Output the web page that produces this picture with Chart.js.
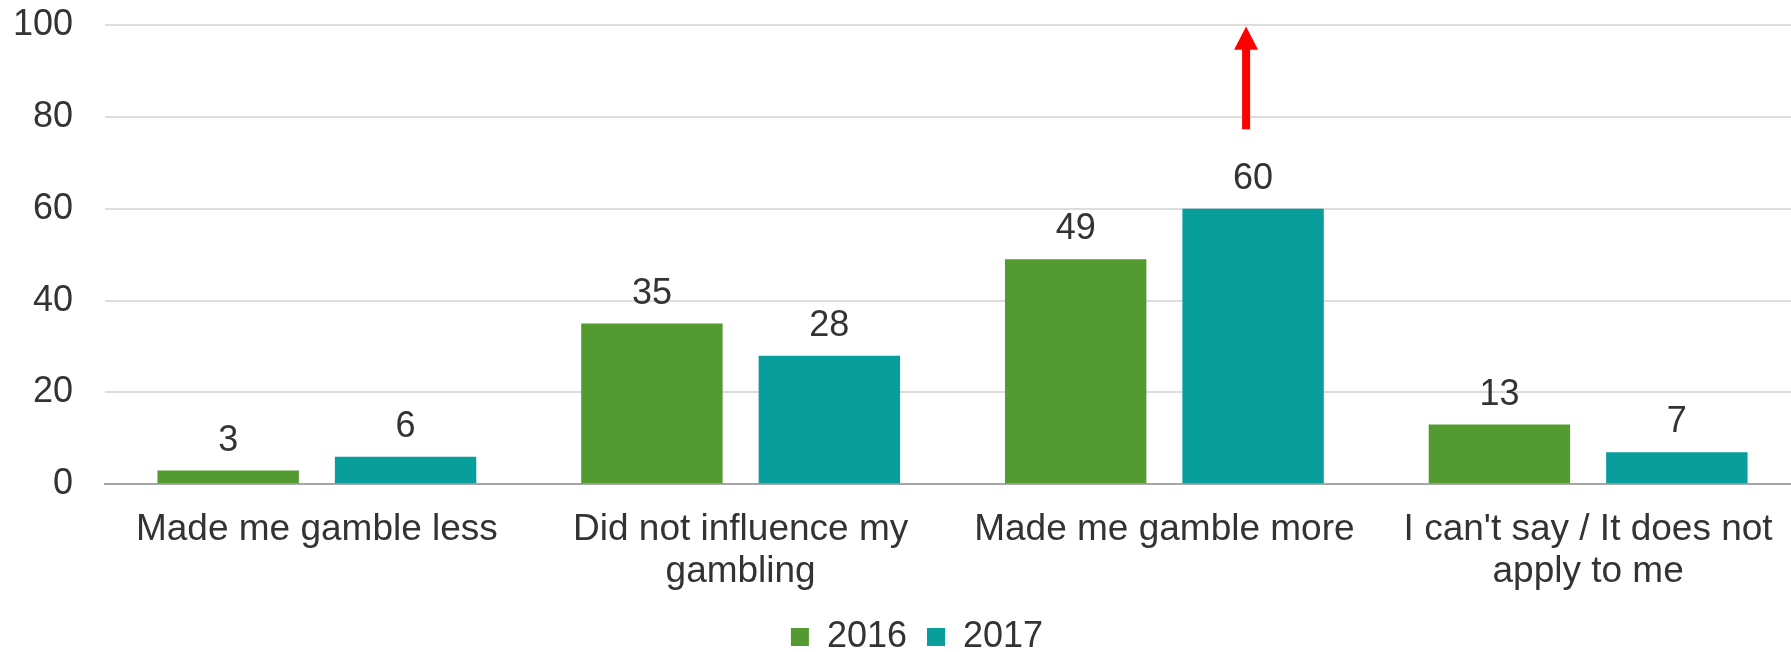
<!DOCTYPE html>
<html>
<head>
<meta charset="utf-8">
<script src="https://cdn.jsdelivr.net/npm/chart.js@4/dist/chart.umd.min.js"></script>
<style>
  html, body { margin: 0; padding: 0; background: #ffffff; overflow: hidden; width: 1791px; height: 652px; }
  #wrap { width: 1800px; height: 665px; }
</style>
</head>
<body>
<div id="wrap"><canvas id="c" width="1800" height="665"></canvas></div>
<script>
const categories = [
  ["Made me gamble less"],
  ["Did not influence my", "gambling"],
  ["Made me gamble more"],
  ["I can't say / It does not", "apply to me"]
];
const seriesNames = ["2016", "2017"];
const values2016 = [3, 35, 49, 13];
const values2017 = [6, 28, 60, 7];
const yTicks = [0, 20, 40, 60, 80, 100];
const seriesColors = ["#539A30", "#079E9C"];

const FONT = "'Liberation Sans', Arial, sans-serif";
const TEXT = "#333333";

const dataLabels = {
  id: 'dataLabels',
  afterDatasetsDraw(chart) {
    const ctx = chart.ctx;
    ctx.save();
    ctx.font = "36px " + FONT;
    ctx.fillStyle = TEXT;
    ctx.textAlign = 'center';
    ctx.textBaseline = 'alphabetic';
    chart.data.datasets.forEach((ds, i) => {
      const meta = chart.getDatasetMeta(i);
      meta.data.forEach((bar, j) => {
        ctx.fillText(String(ds.data[j]), bar.x, bar.y - 20);
      });
    });
    ctx.restore();
  }
};

const arrowPlugin = {
  id: 'arrow',
  afterDatasetsDraw(chart) {
    const ctx = chart.ctx;
    const y = chart.scales.y;
    const bar = chart.getDatasetMeta(1).data[2];
    const cx = bar.x - 7;
    const yBottom = y.getPixelForValue(77.3);
    const yHeadBase = y.getPixelForValue(94.6);
    const yTip = y.getPixelForValue(99.7);
    ctx.save();
    ctx.fillStyle = '#FF0000';
    ctx.fillRect(cx - 4, yHeadBase - 1, 8, yBottom - yHeadBase + 1);
    ctx.beginPath();
    ctx.moveTo(cx, yTip);
    ctx.lineTo(cx + 12, yHeadBase);
    ctx.lineTo(cx - 12, yHeadBase);
    ctx.closePath();
    ctx.fill();
    ctx.restore();
  }
};

const legendShift = {
  id: 'legendShift',
  afterLayout(chart) {
    if (chart.legend) { chart.legend.left = 34; }
  }
};

new Chart(document.getElementById('c'), {
  type: 'bar',
  data: {
    labels: categories,
    datasets: [
      { label: seriesNames[0], data: values2016, backgroundColor: seriesColors[0], borderWidth: 0 },
      { label: seriesNames[1], data: values2017, backgroundColor: seriesColors[1], borderWidth: 0 }
    ]
  },
  options: {
    responsive: false,
    animation: false,
    devicePixelRatio: 1,
    layout: { padding: { left: 0, top: 25, right: 0, bottom: 0 } },
    datasets: { bar: { categoryPercentage: 0.8374, barPercentage: 0.797 } },
    plugins: {
      tooltip: { enabled: false },
      legend: {
        position: 'bottom',
        labels: {
          boxWidth: 18, boxHeight: 18, padding: 20,
          color: TEXT,
          font: { family: FONT, size: 36 }
        }
      }
    },
    scales: {
      x: {
        grid: { display: false, drawTicks: false },
        border: { display: true, color: '#A6A6A6', width: 2 },
        ticks: {
          color: TEXT, padding: 24, maxRotation: 0, autoSkip: false,
          font: { family: FONT, size: 37, lineHeight: 1.15 }
        },
        afterFit(scale) { scale.height = 114.7; scale.paddingLeft = 0; scale.paddingRight = 0; }
      },
      y: {
        min: 0, max: 100,
        afterBuildTicks(scale) { scale.ticks = yTicks.map(v => ({ value: v })); },
        grid: { color: '#DDDDDD', lineWidth: 2, drawTicks: false },
        border: { display: false },
        ticks: {
          color: TEXT, padding: 32,
          font: { family: FONT, size: 36 }
        },
        afterFit(scale) { scale.width = 105; scale.paddingTop = 0; scale.paddingBottom = 0; }
      }
    }
  },
  plugins: [dataLabels, arrowPlugin, legendShift]
});
</script>
</body>
</html>
